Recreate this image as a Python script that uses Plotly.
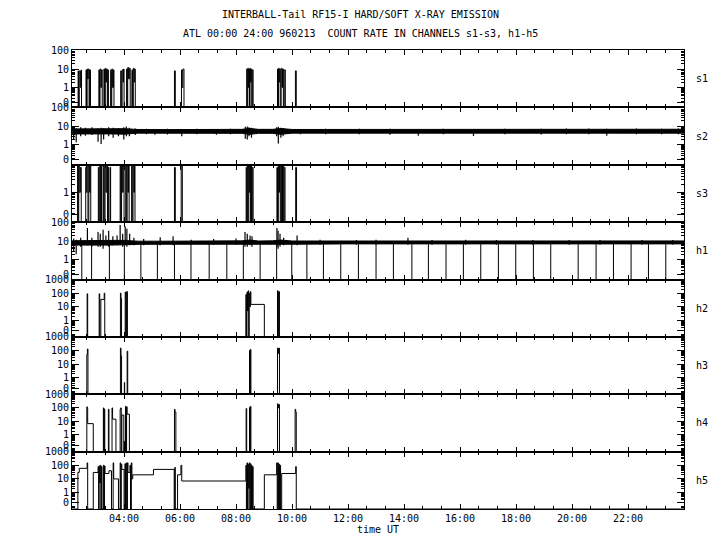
import plotly.graph_objects as go
from plotly.subplots import make_subplots

# ---------------- data ----------------
hour_ticks = [4, 6, 8, 10, 12, 14, 16, 18, 20, 22]
hour_labels = ["04:00", "06:00", "08:00", "10:00", "12:00",
               "14:00", "16:00", "18:00", "20:00", "22:00"]
channels = ["s1", "s2", "s3", "h1", "h2", "h3", "h4", "h5"]

# count rate (time in hours UT, value)
s1_pts = [(2.15, 0),
          (2.36, 8), (2.37, 0), (2.40, 8), (2.44, 1), (2.47, 9), (2.48, 0),
          (2.64, 9), (2.66, 0), (2.68, 10), (2.70, 3), (2.72, 10), (2.75, 0), (2.77, 9), (2.80, 0),
          (3.10, 9), (3.12, 0), (3.14, 10), (3.17, 1), (3.19, 9), (3.22, 0),
          (3.28, 10), (3.30, 0), (3.33, 11), (3.35, 2), (3.37, 10), (3.40, 0), (3.42, 9), (3.44, 0),
          (3.52, 9), (3.54, 0), (3.56, 10), (3.59, 1), (3.62, 9), (3.64, 0),
          (3.88, 8), (3.90, 0), (3.93, 9), (3.96, 2), (3.98, 10), (4.00, 0),
          (4.09, 10), (4.11, 0), (4.13, 12), (4.16, 3), (4.19, 11), (4.22, 0),
          (4.28, 9), (4.30, 0), (4.33, 11), (4.36, 2), (4.38, 10), (4.40, 0),
          (5.80, 8), (5.83, 0),
          (6.05, 9), (6.07, 1), (6.10, 10), (6.14, 0),
          (8.38, 10), (8.40, 0), (8.42, 11), (8.44, 1), (8.46, 10), (8.48, 0), (8.50, 11),
          (8.52, 2), (8.54, 10), (8.56, 0), (8.58, 9), (8.61, 0),
          (9.48, 10), (9.50, 0), (9.52, 11), (9.54, 2), (9.56, 10), (9.58, 0), (9.61, 11),
          (9.64, 1), (9.66, 10), (9.69, 0), (9.72, 9), (9.76, 0),
          (10.12, 8), (10.15, 0),
          (24.0, 0)]

s3_pts = [(2.15, 0),
          (2.34, 9), (2.36, 0), (2.38, 10), (2.40, 1), (2.44, 8), (2.47, 0),
          (2.63, 8), (2.65, 1), (2.68, 10), (2.71, 0), (2.74, 9), (2.77, 1), (2.79, 10), (2.81, 0),
          (3.08, 8), (3.10, 0), (3.13, 10), (3.16, 0), (3.19, 9), (3.21, 0),
          (3.27, 10), (3.29, 0), (3.32, 9), (3.35, 1), (3.38, 10), (3.41, 0), (3.43, 8), (3.45, 0),
          (3.50, 8), (3.52, 0),
          (3.86, 9), (3.88, 0), (3.91, 10), (3.94, 1), (3.97, 9), (4.00, 0),
          (4.06, 10), (4.08, 0), (4.11, 9), (4.14, 1), (4.16, 10), (4.18, 0),
          (4.27, 9), (4.29, 0), (4.32, 10), (4.35, 1), (4.37, 9), (4.39, 0),
          (5.80, 8), (5.83, 0),
          (6.04, 9), (6.08, 0),
          (8.36, 8), (8.38, 0), (8.40, 10), (8.42, 0), (8.45, 9), (8.47, 1), (8.49, 10), (8.51, 0),
          (8.53, 9), (8.55, 0), (8.58, 8), (8.61, 0),
          (9.46, 8), (9.48, 0), (9.51, 10), (9.53, 1), (9.55, 9), (9.58, 0), (9.61, 10), (9.63, 0),
          (9.66, 9), (9.69, 0), (9.72, 8), (9.75, 0),
          (10.13, 8), (10.16, 0),
          (24.0, 0)]

h2_pts = [(2.15, 0), (2.68, 90), (2.70, 0),
          (3.11, 90), (3.13, 0), (3.17, 35), (3.29, 100), (3.31, 0),
          (3.87, 100), (3.89, 40), (3.91, 0),
          (4.04, 120), (4.06, 0), (4.09, 130), (4.12, 0),
          (8.35, 80), (8.37, 0), (8.39, 120), (8.41, 5), (8.43, 150), (8.45, 0),
          (8.47, 100), (8.49, 10), (8.51, 130), (8.53, 15), (9.01, 0),
          (9.48, 150), (9.50, 0), (9.52, 130), (9.55, 0),
          (24.0, 0)]

h3_pts = [(2.15, 0), (2.67, 50), (2.69, 130), (2.71, 0),
          (3.87, 150), (3.89, 40), (3.91, 0),
          (4.01, 0.4), (4.02, 0),
          (4.11, 90), (4.13, 0),
          (8.48, 100), (8.50, 0), (8.51, 120), (8.53, 0),
          (9.48, 150), (9.50, 60), (9.52, 150), (9.55, 0),
          (24.0, 0)]

h4_pts = [(2.15, 0), (2.67, 120), (2.69, 100), (2.70, 7), (2.90, 0),
          (3.26, 100), (3.28, 0), (3.29, 80), (3.31, 0),
          (3.44, 80), (3.46, 0),
          (3.57, 100), (3.59, 15), (3.71, 0),
          (3.86, 80), (3.88, 100), (3.90, 0), (3.92, 30), (3.99, 0),
          (4.01, 0.3), (4.02, 0),
          (4.05, 130), (4.07, 0), (4.09, 120), (4.11, 35), (4.19, 0),
          (5.80, 80), (5.82, 50), (5.85, 0),
          (8.36, 90), (8.38, 0), (8.48, 110), (8.50, 0), (8.51, 130), (8.53, 0),
          (9.48, 200), (9.50, 100), (9.52, 180), (9.55, 0),
          (10.11, 80), (10.13, 50), (10.15, 0),
          (24.0, 0)]

h5_pts = [(2.15, 0), (2.35, 30), (2.40, 60), (2.68, 150), (2.70, 0),
          (2.90, 30), (3.07, 80), (3.09, 0), (3.11, 90), (3.13, 5), (3.15, 100), (3.17, 0),
          (3.19, 80), (3.21, 0),
          (3.26, 100), (3.28, 0), (3.30, 90), (3.32, 25), (3.46, 40), (3.55, 0),
          (3.61, 150), (3.63, 10), (3.80, 0),
          (3.86, 150), (3.88, 0), (3.90, 120), (3.92, 50), (4.00, 0), (4.03, 130), (4.05, 0),
          (4.08, 150), (4.10, 0), (4.12, 150), (4.14, 30), (4.21, 100), (4.23, 0),
          (4.26, 150), (4.28, 10), (4.31, 20),
          (5.05, 50), (5.79, 0), (5.81, 70), (5.83, 0), (5.91, 20), (6.03, 100), (6.06, 7),
          (8.35, 100), (8.37, 0), (8.39, 150), (8.41, 0), (8.43, 120), (8.45, 2), (8.47, 150),
          (8.49, 0), (8.51, 130), (8.53, 0), (8.55, 100), (8.57, 0), (8.59, 80), (8.61, 0),
          (9.01, 20), (9.45, 150), (9.47, 0), (9.49, 150), (9.51, 0), (9.53, 120), (9.55, 0),
          (9.57, 100), (9.59, 0), (9.63, 25), (10.13, 80), (10.15, 0),
          (24.0, 0)]

# noisy channels: envelope (time, low, high) + individual excursions (time, low, high)
s2_band = [(2.15, 4.0, 7.4), (2.5, 3.9, 7.6), (3.0, 4.0, 7.4), (3.5, 4.0, 7.5), (4.0, 3.9, 7.6),
           (4.5, 4.4, 6.9), (5.5, 4.4, 6.8), (7.0, 4.4, 6.9), (8.2, 4.3, 7.0), (8.5, 3.8, 7.8),
           (8.8, 4.3, 7.0), (9.3, 4.3, 7.0), (9.6, 3.8, 7.8), (10.0, 4.4, 6.9), (12.0, 4.4, 6.9),
           (14.0, 4.4, 6.9), (16.0, 4.4, 7.0), (18.0, 4.4, 7.0), (20.0, 4.4, 7.1), (22.0, 4.4, 7.1),
           (24.0, 4.4, 7.1)]
s2_spikes = [(2.20, 2.0, 9.5), (2.29, 1.4, 8.0), (2.45, 3.0, 9.0), (2.62, 3.2, 8.5), (2.85, 3.5, 9.0),
             (3.07, 1.5, 8.0), (3.18, 1.1, 8.5), (3.27, 2.0, 8.0), (3.45, 3.0, 9.0), (3.61, 2.5, 8.5),
             (3.80, 3.0, 8.0), (3.99, 2.0, 9.0), (4.08, 3.0, 10.0), (4.19, 3.0, 8.5), (4.40, 3.5, 7.8),
             (4.80, 3.8, 7.5), (5.10, 3.6, 7.4), (5.55, 3.7, 7.5), (6.06, 3.0, 7.4), (6.60, 3.8, 7.5),
             (7.30, 3.6, 7.4), (7.80, 3.8, 7.5), (8.33, 2.2, 9.5), (8.40, 2.0, 10.0), (8.46, 3.0, 9.0),
             (8.55, 2.5, 8.5), (9.45, 3.0, 9.0), (9.51, 1.2, 9.5), (9.60, 2.5, 8.5), (9.68, 3.0, 8.0),
             (10.3, 3.8, 7.4), (11.2, 3.9, 7.6), (12.4, 3.8, 7.5), (13.5, 3.6, 7.5), (14.51, 3.2, 7.4),
             (15.4, 3.9, 7.5), (16.48, 3.1, 7.4), (17.6, 3.8, 7.6), (18.9, 3.7, 7.5), (19.8, 3.9, 7.8),
             (20.6, 3.8, 7.8), (21.24, 3.2, 7.5), (22.3, 3.9, 7.8), (23.2, 3.8, 7.6), (23.8, 3.9, 7.8)]

h1_band = [(2.15, 6.2, 10.5), (2.5, 6.0, 10.8), (3.0, 6.2, 10.8), (3.5, 6.2, 11.0), (4.0, 6.2, 11.0),
           (4.5, 6.8, 10.0), (5.5, 6.9, 10.0), (7.0, 6.9, 10.0), (8.2, 6.6, 10.4), (8.5, 6.3, 11.5),
           (8.8, 6.8, 10.2), (9.3, 6.6, 10.4), (9.6, 6.3, 11.5), (10.0, 6.9, 10.2), (12.0, 7.2, 10.2),
           (14.0, 7.2, 10.3), (16.0, 7.2, 10.2), (18.0, 7.2, 10.2), (20.0, 7.2, 10.3), (22.0, 7.2, 10.2),
           (24.0, 7.2, 10.3)]
h1_spikes = [(2.20, 3.0, 14), (2.29, 2.0, 12), (2.45, 5.0, 15), (2.69, 6.0, 50), (2.85, 5.0, 15),
             (3.07, 5.0, 30), (3.15, 5.0, 25), (3.25, 4.0, 40), (3.35, 6.0, 20), (3.45, 5.0, 35),
             (3.60, 6.0, 18), (3.75, 6.0, 20), (3.86, 6.0, 70), (3.95, 5.0, 25), (4.04, 6.0, 60),
             (4.10, 5.0, 45), (4.20, 6.0, 25), (4.35, 6.0, 15), (4.70, 6.0, 13), (5.29, 6.0, 16),
             (5.75, 6.0, 18), (6.40, 6.5, 12), (7.20, 6.5, 13), (8.00, 6.5, 14), (8.32, 5.0, 30),
             (8.40, 5.0, 25), (8.50, 6.0, 20), (8.57, 5.0, 18), (9.46, 5.0, 50), (9.50, 4.0, 35),
             (9.57, 5.0, 25), (9.70, 6.0, 15), (10.18, 6.0, 20), (11.0, 6.5, 12), (12.3, 6.5, 11.5),
             (13.0, 6.5, 12), (14.14, 6.5, 15), (15.0, 6.5, 11.5), (16.2, 6.5, 12), (17.3, 6.5, 11.5),
             (18.6, 6.5, 11.5), (19.9, 6.5, 11.5), (21.0, 6.5, 11.5), (22.5, 6.5, 11.5), (23.6, 6.5, 11.5)]
# times of the periodic drops of h1 to zero (from the band level)
h1_drop_level = 7
h1_drops = [2.49, 2.84, 3.475, 4.01, 4.60, 5.19, 5.80, 6.39, 7.04, 7.67, 8.26, 8.86, 9.45, 9.99,
            10.53, 11.12, 11.74, 12.37, 13.0, 13.62, 14.28, 14.87, 15.5, 16.12, 16.74, 17.37,
            17.99, 18.62, 19.24, 20.22, 20.86, 21.48, 22.11, 22.73, 23.35]

# ---------------- figure ----------------
FONT = "DejaVu Sans Mono"
N = 8
fig = make_subplots(rows=N, cols=1, shared_xaxes=False, vertical_spacing=0)

# per-panel log ranges (decades) and tick labels
s_rng, s3_rng, h_rng = (-1.0, 2.001), (-1.0, 1.001), (-1.2, 3.001)
cfg = {
    "s1": (s_rng, [0, 1, 10, 100]),
    "s2": (s_rng, [0, 1, 10, 100]),
    "s3": (s3_rng, [0, 1, 10]),
    "h1": (s_rng, [0, 1, 10, 100]),
    "h2": (h_rng, [0, 1, 10, 100, 1000]),
    "h3": (h_rng, [0, 1, 10, 100, 1000]),
    "h4": (h_rng, [0, 1, 10, 100, 1000]),
    "h5": (h_rng, [0, 1, 10, 100, 1000]),
}
ZERO_LABEL_POS = 0.18
LINE = dict(color="black", width=1)


def add_steps(pts, row, off):
    fig.add_trace(go.Scatter(x=[p[0] for p in pts], y=[p[1] + off for p in pts], mode="lines",
                             line=dict(color="black", width=1, shape="hv"), hoverinfo="skip"),
                  row=row, col=1)


def add_band(band, spikes, row, off):
    fig.add_trace(go.Scatter(x=[b[0] for b in band], y=[b[1] + off for b in band], mode="lines",
                             line=LINE, hoverinfo="skip"), row=row, col=1)
    fig.add_trace(go.Scatter(x=[b[0] for b in band], y=[b[2] + off for b in band], mode="lines",
                             line=LINE, fill="tonexty", fillcolor="black", hoverinfo="skip"),
                  row=row, col=1)
    xs, ys = [], []
    for t, lo, hi in spikes:
        xs += [t, t, None]
        ys += [lo + off, hi + off, None]
    fig.add_trace(go.Scatter(x=xs, y=ys, mode="lines", line=dict(color="black", width=1.2),
                             hoverinfo="skip"), row=row, col=1)


offs = {ch: 10 ** cfg[ch][0][0] for ch in channels}

add_steps(s1_pts, 1, offs["s1"])
add_band(s2_band, s2_spikes, 2, offs["s2"])
add_steps(s3_pts, 3, offs["s3"])
add_band(h1_band, h1_spikes, 4, offs["h1"])
dx, dy = [], []
for t in h1_drops:
    dx += [t, t, None]
    dy += [h1_drop_level + offs["h1"], offs["h1"], None]
fig.add_trace(go.Scatter(x=dx, y=dy, mode="lines", line=LINE, hoverinfo="skip"), row=4, col=1)
add_steps(h2_pts, 5, offs["h2"])
add_steps(h3_pts, 6, offs["h3"])
add_steps(h4_pts, 7, offs["h4"])
add_steps(h5_pts, 8, offs["h5"])

tick_font = dict(family=FONT, size=10, color="black")
for i, ch in enumerate(channels, start=1):
    rng, ticks = cfg[ch]
    off = offs[ch]
    tv = [ZERO_LABEL_POS if v == 0 else v + off for v in ticks]
    fig.update_yaxes(type="log", range=list(rng), tickmode="array", tickvals=tv,
                     ticktext=[str(v) for v in ticks], ticks="inside", ticklen=7,
                     tickcolor="black", showline=True, linecolor="black", linewidth=1,
                     mirror="allticks", showgrid=False, zeroline=False, tickfont=tick_font,
                     minor=dict(ticks="inside", ticklen=3, dtick="D1", tickcolor="black",
                                showgrid=False),
                     row=i, col=1)
    fig.update_xaxes(range=[2.14, 24.0], tickmode="array", tickvals=hour_ticks,
                     ticktext=hour_labels, showticklabels=(i == N), ticks="inside", ticklen=5,
                     tickcolor="black", showline=True, linecolor="black", linewidth=1,
                     mirror="allticks", showgrid=False, zeroline=False, tickfont=tick_font,
                     minor=dict(ticks="inside", ticklen=3, tick0=0, dtick=2 / 3,
                                tickcolor="black", showgrid=False),
                     row=i, col=1)
    yref = "y domain" if i == 1 else f"y{i} domain"
    fig.add_annotation(text=ch, xref="paper", yref=yref, x=1.0165, y=0.5, xanchor="left",
                       yanchor="middle", showarrow=False, font=tick_font)

fig.update_xaxes(title=dict(text="time UT", font=tick_font, standoff=2), row=N, col=1)

fig.add_annotation(text="INTERBALL-Tail RF15-I HARD/SOFT X-RAY EMISSION", xref="paper",
                   yref="paper", x=0.472, y=1.0, yshift=36, xanchor="center", yanchor="middle",
                   showarrow=False, font=tick_font)
fig.add_annotation(text="ATL 00:00 24:00 960213  COUNT RATE IN CHANNELS s1-s3, h1-h5",
                   xref="paper", yref="paper", x=0.472, y=1.0, yshift=17, xanchor="center",
                   yanchor="middle", showarrow=False, font=tick_font)

# the page body adds an 8 px offset, so the figure is 712x542 with matching margins
fig.update_layout(template="none", width=712, height=542,
                  margin=dict(l=64, r=36, t=42, b=41),
                  paper_bgcolor="white", plot_bgcolor="white", showlegend=False,
                  font=tick_font)
fig.write_html("out.html")
